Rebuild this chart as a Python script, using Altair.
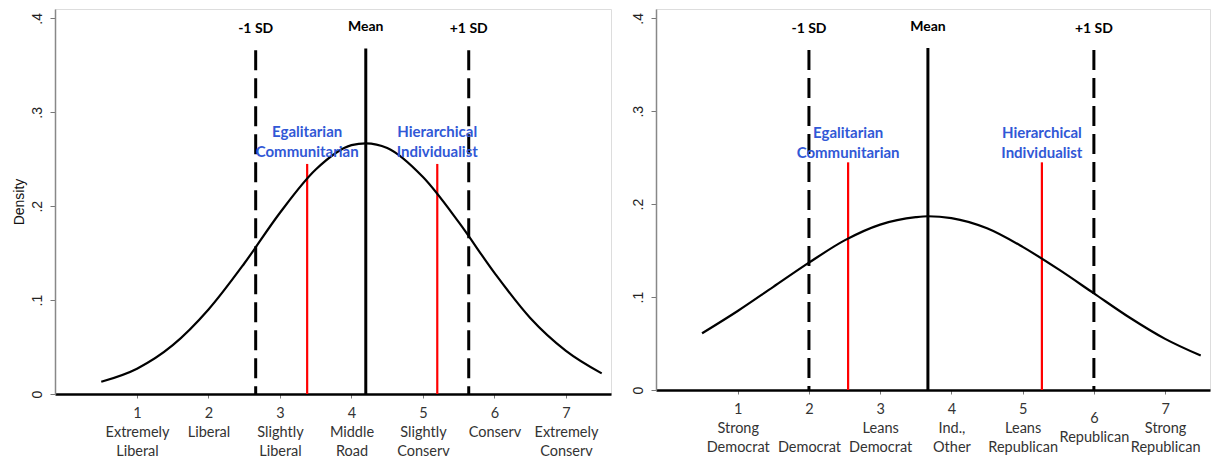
import json
import altair as alt
import pandas as pd

# ---------------- data ----------------
# Left panel: ideology (1-7)
ideo_x = [0.5, 1.0, 1.5, 2.0, 2.5, 3.0, 3.5, 4.0, 4.2, 4.5, 5.0, 5.5, 6.0, 6.5, 7.0, 7.5]
ideo_density = [0.013, 0.027, 0.052, 0.090, 0.139, 0.193, 0.239, 0.265, 0.267,
                0.262, 0.231, 0.183, 0.129, 0.081, 0.046, 0.022]
ideo_ticks = [1, 2, 3, 4, 5, 6, 7]
ideo_labels = [["1", "Extremely", "Liberal"], ["2", "Liberal"], ["3", "Slightly", "Liberal"],
               ["4", "Middle", "Road"], ["5", "Slightly", "Conserv"], ["6", "Conserv"],
               ["7", "Extremely", "Conserv"]]
ideo_mean = 4.20
ideo_sd_low = 2.66
ideo_sd_high = 5.64
ideo_egal = 3.38
ideo_hier = 5.20

# Right panel: party identification (1-7)
party_x = [0.5, 1.0, 1.5, 2.0, 2.5, 3.0, 3.5, 3.67, 4.0, 4.5, 5.0, 5.5, 6.0, 6.5, 7.0, 7.5]
party_density = [0.061, 0.085, 0.111, 0.137, 0.161, 0.178, 0.186, 0.187, 0.185,
                 0.174, 0.154, 0.130, 0.104, 0.078, 0.055, 0.037]
party_ticks = [1, 2, 3, 4, 5, 6, 7]
party_labels = [["1", "Strong", "Democrat"], ["2", "\u200b", "Democrat"], ["3", "Leans", "Democrat"],
                ["4", "Ind.,", "Other"], ["5", "Leans", "Republican"], ["6", "Republican"],
                ["7", "Strong", "Republican"]]
party_mean = 3.67
party_sd_low = 2.00
party_sd_high = 6.00
party_egal = 2.55
party_hier = 5.27

y_ticks = [0, 0.1, 0.2, 0.3, 0.4]

X_DOMAIN = [-0.147, 7.63]
Y_DOMAIN = [0, 0.41]
CAL = "Lato"
ARIAL = "Liberation Sans"


def label_expr(ticks, labels):
    expr = "''"
    for t, lines in reversed(list(zip(ticks, labels))):
        expr = f"datum.value == {t} ? {json.dumps(lines, ensure_ascii=False)} : ({expr})"
    return expr


def panel(xs, ys, ticks, labels, mean, lo, hi, egal, hier, width, height,
          ytitle, xpad, grp_y):
    curve = pd.DataFrame({"x": xs, "density": ys})
    xscale = alt.Scale(domain=X_DOMAIN, nice=False, zero=False)
    yscale = alt.Scale(domain=Y_DOMAIN, nice=False)

    yaxis_kw = dict(values=y_ticks,
                    labelExpr="datum.value == 0 ? '0' : replace(format(datum.value, '.1f'), '0.', '.')",
                    labelAngle=270, labelAlign="center", labelBaseline="bottom",
                    labelFont=ARIAL, labelFontSize=14, labelColor="#222",
                    labelPadding=6, tickSize=5, tickColor="#777",
                    domainColor="#888", domainWidth=1.5, grid=False)
    if ytitle:
        yaxis_kw.update(title=ytitle, titleFont=ARIAL, titleFontSize=14,
                        titleFontWeight="normal", titleColor="#111", titlePadding=4)
    else:
        yaxis_kw.update(title=None)

    xaxis = alt.Axis(values=ticks, labelExpr=label_expr(ticks, labels), title=None,
                     labelFont=CAL, labelFontSize=14.5, labelColor="#333",
                     labelLineHeight=19, labelBaseline="top", labelPadding=xpad,
                     tickSize=4, tickColor="#777", domainColor="#000", domainWidth=2.5,
                     grid=False, labelFlush=False, labelOverlap=False)

    base = alt.Chart(curve)
    line = base.mark_line(interpolate="monotone", color="black", strokeWidth=2.2).encode(
        x=alt.X("x:Q", scale=xscale, axis=xaxis),
        y=alt.Y("density:Q", scale=yscale, axis=alt.Axis(**yaxis_kw)),
    )

    sd_df = pd.DataFrame({"x": [lo, hi], "top": [0.366, 0.366]})
    mean_df = pd.DataFrame({"x": [mean], "top": [0.368]})
    grp_df = pd.DataFrame({"x": [egal, hier], "top": [0.245, 0.245]})

    def rules(df, **kw):
        return alt.Chart(df).mark_rule(**kw).encode(
            x=alt.X("x:Q", scale=xscale),
            y=alt.Y("top:Q", scale=yscale),
            y2=alt.datum(0),
        )

    sd_rules = rules(sd_df, color="black", strokeWidth=3, strokeDash=[20, 8])
    mean_rule = rules(mean_df, color="black", strokeWidth=3)
    grp_rules = rules(grp_df, color="#ff0000", strokeWidth=2.2)

    top_lab = pd.DataFrame({"x": [lo, mean, hi], "label": ["-1 SD", "Mean", "+1 SD"],
                            "y": [0.389, 0.391, 0.389]})
    top_text = alt.Chart(top_lab).mark_text(font=CAL, fontSize=14, fontWeight="bold",
                                            color="black", baseline="middle").encode(
        x=alt.X("x:Q", scale=xscale), y=alt.Y("y:Q", scale=yscale), text="label:N")

    grp_lab = pd.DataFrame({"x": [egal, hier],
                            "label": [["Egalitarian", "Communitarian"],
                                      ["Hierarchical", "Individualist"]],
                            "y": [grp_y, grp_y]})
    grp_text = alt.Chart(grp_lab).mark_text(font=CAL, fontSize=15, fontWeight="bold",
                                            color="#3158d6", baseline="middle",
                                            lineHeight=20).encode(
        x=alt.X("x:Q", scale=xscale), y=alt.Y("y:Q", scale=yscale), text="label")

    return alt.layer(sd_rules, mean_rule, grp_rules, line, top_text, grp_text).properties(
        width=width, height=height)


left = panel(ideo_x, ideo_density, ideo_ticks, ideo_labels, ideo_mean, ideo_sd_low,
             ideo_sd_high, ideo_egal, ideo_hier, 556, 385, "Density", 8, 0.2795)
right = panel(party_x, party_density, party_ticks, party_labels, party_mean, party_sd_low,
              party_sd_high, party_egal, party_hier, 554, 381, None,
              {"condition": {"test": "datum.value == 6", "value": 17}, "value": 8}, 0.277)

chart = alt.hconcat(left, right, spacing=18).properties(
    padding={"left": 3, "top": 0, "right": 0, "bottom": 0}
).configure_view(stroke="#888", strokeWidth=1.5).configure(background="white")

chart.save("out.html", embed_options={"renderer": "svg", "actions": False})
